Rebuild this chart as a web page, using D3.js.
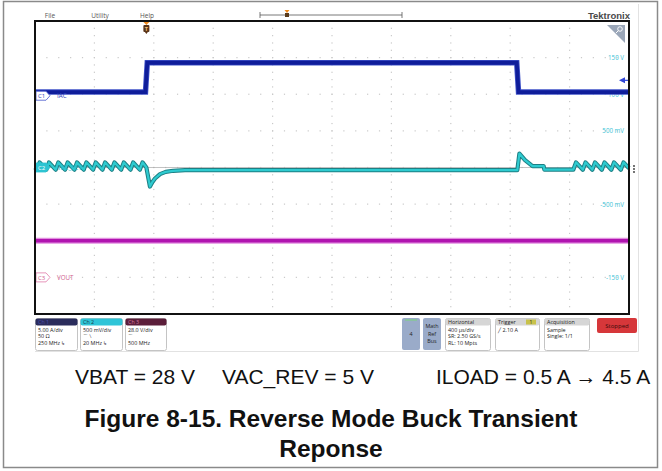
<!DOCTYPE html>
<html>
<head>
<meta charset="utf-8">
<script src="https://cdn.jsdelivr.net/npm/d3@7"></script>
<style>
  html, body { margin: 0; padding: 0; background: #fff; }
  svg { display: block; }
</style>
</head>
<body>
<svg id="chart" width="662" height="471"></svg>
<script>
// ---- Data (time in µs relative to the trigger point) ----
const timeDomain = [-750, 3250];           // 400 µs/div, 10 divisions

// Ch1 IAC (A): load step 0.5 A -> 4.5 A -> 0.5 A
const iacPoints = [
  [-750, 0.5], [-6, 0.5], [6, 4.5], [2494, 4.5], [2506, 0.5], [3250, 0.5]
];

// Ch2 VAC_REV AC-coupled ripple/transient (V)
const vacPoints = [
  [-750, 0.0], [-737, -0.03], [-719, 0.07], [-674, -0.03], [-656, 0.07],
  [-611, -0.03], [-593, 0.07], [-548, -0.03], [-530, 0.07], [-485, -0.03],
  [-467, 0.07], [-422, -0.03], [-404, 0.07], [-359, -0.03], [-341, 0.07],
  [-296, -0.03], [-278, 0.07], [-233, -0.03], [-215, 0.07], [-170, -0.03],
  [-152, 0.07], [-107, -0.03], [-89, 0.07], [-44, -0.03], [-26, 0.07],
  [0, 0.0], [24, -0.26], [40, -0.2], [58, -0.15], [92, -0.09], [130, -0.06],
  [180, -0.045], [260, -0.035], [2498, -0.035], [2512, 0.19], [2550, 0.1],
  [2590, 0.035], [2600, 0.02], [2675, 0.02], [2680, -0.03], [2875, -0.03],
  [2893, 0.07], [2939, -0.03], [2957, 0.07], [3003, -0.03], [3021, 0.07],
  [3067, -0.03], [3085, 0.07], [3131, -0.03], [3149, 0.07], [3195, -0.03],
  [3213, 0.07], [3250, -0.01]
];

// Ch3 VOUT (V)
const voutPoints = [[-750, 28], [3250, 28]];

// Channel settings
const ch1 = { name: "C1", label: "IAC", perDiv: 5.0, offsetDiv: 1.96 };
const ch2 = { name: "C2", label: "VAC_REV", perDiv: 0.5, offsetDiv: 0 };
const ch3 = { name: "C3", label: "VOUT", perDiv: 28.0, offsetDiv: -3 };
const triggerLevel = 2.10; // A on Ch1

// Right-edge graticule readouts (per division index)
const gratLabels = [
  { div: 3, text: "150 V" }, { div: 2, text: "100 V" }, { div: 1, text: "500 mV" },
  { div: -1, text: "-500 mV" }, { div: -2, text: "-100 V" }, { div: -3, text: "-150 V" }
];

const menuItems = ["File", "Utility", "Help"];
const captionParts = ["VBAT = 28 V", "VAC_REV = 5 V", "ILOAD = 0.5 A \u2192 4.5 A"];
const titleLines = ["Figure 8-15. Reverse Mode Buck Transient", "Reponse"];

// ---- Layout ----
const svg = d3.select("#chart");
const plot = { left: 35, right: 629, top: 21, bottom: 314 };
const uiFont = "'Open Sans', 'Noto Sans', sans-serif";

const x = d3.scaleLinear().domain(timeDomain).range([plot.left, plot.right]);
const yDiv = d3.scaleLinear().domain([-4, 4]).range([plot.bottom, plot.top]);
const chY = ch => v => yDiv(ch.offsetDiv + v / ch.perDiv);

// Outer figure frame
svg.append("rect").attr("x", 3.5).attr("y", 1.5).attr("width", 654).attr("height", 466)
  .attr("fill", "none").attr("stroke", "#8a8a8a").attr("stroke-width", 1.5);

// Scope screen border lines
svg.append("line").attr("x1", 638.5).attr("x2", 638.5).attr("y1", 4).attr("y2", 351.5)
  .attr("stroke", "#e2e2e2");
svg.append("line").attr("x1", 35).attr("x2", 638.5).attr("y1", 351.5).attr("y2", 351.5)
  .attr("stroke", "#e2e2e2");

// Menu bar
const menuX = [50, 100, 147];
svg.selectAll("text.menu").data(menuItems).join("text")
  .attr("x", (d, i) => menuX[i]).attr("y", 17.5).attr("text-anchor", "middle")
  .attr("font-family", uiFont).attr("font-size", 6.5).attr("fill", "#555").text(d => d);

// Record overview bar
const ov = svg.append("g");
ov.append("line").attr("x1", 260).attr("x2", 402).attr("y1", 15).attr("y2", 15).attr("stroke", "#555").attr("stroke-width", 0.8);
ov.append("line").attr("x1", 260).attr("x2", 260).attr("y1", 12).attr("y2", 18).attr("stroke", "#555").attr("stroke-width", 0.8);
ov.append("line").attr("x1", 402).attr("x2", 402).attr("y1", 12).attr("y2", 18).attr("stroke", "#555").attr("stroke-width", 0.8);
ov.append("path").attr("d", "M284.5,10 L289.5,10 L287,13 Z").attr("fill", "#f08a1c");
ov.append("rect").attr("x", 285).attr("y", 13).attr("width", 4).attr("height", 4).attr("fill", "#5a3a1a");

// Tektronix logo
svg.append("text").attr("x", 630).attr("y", 19).attr("text-anchor", "end")
  .attr("font-family", "'Liberation Sans', Arial, sans-serif").attr("font-weight", "bold")
  .attr("font-size", 9.5).attr("fill", "#4a4a4a").text("Tektronix");

// Graticule
const grid = svg.append("g");
for (let i = 1; i < 10; i++) {
  const gx = plot.left + i * (plot.right - plot.left) / 10;
  for (let j = 1; j < 40; j++) {
    const gy = yDiv(-4 + j * 0.2);
    grid.append("rect").attr("x", gx - 0.6).attr("y", gy - 0.6).attr("width", 1.2).attr("height", 1.2).attr("fill", "#c9c9c9");
  }
}
for (let j = -3; j <= 3; j++) {
  const gy = yDiv(j);
  for (let i = 1; i < 50; i++) {
    const gx = plot.left + i * (plot.right - plot.left) / 50;
    grid.append("rect").attr("x", gx - 0.6).attr("y", gy - 0.6).attr("width", 1.2).attr("height", 1.2).attr("fill", "#c9c9c9");
  }
}
grid.append("line").attr("x1", plot.left).attr("x2", plot.right).attr("y1", yDiv(0)).attr("y2", yDiv(0))
  .attr("stroke", "#a8a8a8").attr("stroke-width", 0.7);

// Right-edge readouts
svg.selectAll("text.grat").data(gratLabels).join("text")
  .attr("x", 624).attr("y", d => yDiv(d.div) + 2.5).attr("text-anchor", "end")
  .attr("font-family", uiFont).attr("font-size", 6.2).attr("fill", "#39c3d6").text(d => d.text);

// Traces
const line = (ch) => d3.line().x(d => x(d[0])).y(d => chY(ch)(d[1]));

// Ch3 VOUT
svg.append("path").datum(voutPoints).attr("d", line(ch3)).attr("fill", "none")
  .attr("stroke", "#e28ee0").attr("stroke-width", 6);
svg.append("path").datum(voutPoints).attr("d", line(ch3)).attr("fill", "none")
  .attr("stroke", "#b014b0").attr("stroke-width", 3.5);

// Ch2 VAC_REV
svg.append("path").datum(vacPoints).attr("d", line(ch2)).attr("fill", "none")
  .attr("stroke", "#1d7f84").attr("stroke-width", 4.2).attr("stroke-linejoin", "round");
svg.append("path").datum(vacPoints).attr("d", line(ch2)).attr("fill", "none")
  .attr("stroke", "#2ecbd0").attr("stroke-width", 2.2).attr("stroke-linejoin", "round");

// Ch1 IAC
svg.append("path").datum(iacPoints).attr("d", line(ch1)).attr("fill", "none")
  .attr("stroke", "#3f52c8").attr("stroke-width", 5.5);
svg.append("path").datum(iacPoints).attr("d", line(ch1)).attr("fill", "none")
  .attr("stroke", "#0f1d9a").attr("stroke-width", 3.8);

// Channel badges on the left edge
function badge(ch, stroke, fill, textFill, labelFill) {
  const gy = chY(ch)(0);
  const g = svg.append("g");
  g.append("path")
    .attr("d", `M36,${gy - 4.5} L46,${gy - 4.5} L50,${gy} L46,${gy + 4.5} L36,${gy + 4.5} Z`)
    .attr("fill", fill).attr("stroke", stroke).attr("stroke-width", 0.8);
  g.append("text").attr("x", 41.5).attr("y", gy + 2.2).attr("text-anchor", "middle")
    .attr("font-family", uiFont).attr("font-size", 6).attr("fill", textFill).text(ch.name);
  g.append("text").attr("x", 57).attr("y", gy + 2.2)
    .attr("font-family", uiFont).attr("font-size", 6.2).attr("fill", labelFill).text(ch.label);
}
badge(ch1, "#4455cc", "#fff", "#3344bb", "#3344bb");
badge(ch2, "#2ec4d2", "#2ec4d2", "#fff", "#2ab8c8");
badge(ch3, "#e07aa8", "#fff", "#d0608f", "#d0608f");

// Trigger level indicator (right edge)
const ty = chY(ch1)(triggerLevel);
svg.append("path").attr("d", `M619,${ty} L625,${ty - 3} L625,${ty + 3} Z`).attr("fill", "#3046d8");
svg.append("line").attr("x1", 624).attr("x2", 628).attr("y1", ty).attr("y2", ty).attr("stroke", "#3046d8").attr("stroke-width", 1.2);

// Trigger position marker (top)
const tx = x(0);
svg.append("path").attr("d", `M${tx - 3},22 L${tx + 3},22 L${tx},25 Z`).attr("fill", "#f08a1c");
svg.append("rect").attr("x", tx - 3).attr("y", 25).attr("width", 6).attr("height", 7).attr("rx", 1).attr("fill", "#5a3418");
svg.append("text").attr("x", tx).attr("y", 31).attr("text-anchor", "middle").attr("font-family", uiFont)
  .attr("font-size", 5.5).attr("font-weight", "bold").attr("fill", "#f3c27a").text("T");
svg.append("path").attr("d", `M${tx - 1.5},32 L${tx + 1.5},32 L${tx},34 Z`).attr("fill", "#5a3418");

// Zoom corner
svg.append("path").attr("d", "M607,25 L625,25 L625,43 Z").attr("fill", "#9aa6b8");
svg.append("circle").attr("cx", 620).attr("cy", 29).attr("r", 2.3).attr("fill", "none").attr("stroke", "#fff").attr("stroke-width", 0.9);
svg.append("line").attr("x1", 618.4).attr("y1", 30.6).attr("x2", 616).attr("y2", 33).attr("stroke", "#fff").attr("stroke-width", 1);

// Plot frame
svg.append("rect").attr("x", plot.left).attr("y", plot.top)
  .attr("width", plot.right - plot.left).attr("height", plot.bottom - plot.top)
  .attr("fill", "none").attr("stroke", "#111").attr("stroke-width", 2);

// Side menu dots
[0, 1, 2].forEach(i => svg.append("circle").attr("cx", 634).attr("cy", 166 + i * 3).attr("r", 0.9).attr("fill", "#333"));

// ---- Bottom info badges ----
const info = svg.append("g").attr("font-family", uiFont).attr("font-size", 5.4);
const lineStep = 6.6;
const chBoxes = [
  { x: 35, w: 42, head: "#2a2c5c", headText: "#4a4fb0", title: "Ch 1", lines: ["5.00 A/div", "50 \u03a9", "250 MHz \u21b3"] },
  { x: 80, w: 42, head: "#2fc5d8", headText: "#1b3b48", title: "Ch 2", lines: ["500 mV/div", "\u2312          \u2216", "20 MHz \u21b3"] },
  { x: 125, w: 41, head: "#5b1e3a", headText: "#d87aa0", title: "Ch 3", lines: ["28.0 V/div", "\u2312", "500 MHz"] }
];
chBoxes.forEach(b => {
  info.append("rect").attr("x", b.x + 0.5).attr("y", 318.5).attr("width", b.w).attr("height", 32)
    .attr("rx", 2).attr("fill", "#fff").attr("stroke", "#c4c4c4");
  info.append("rect").attr("x", b.x + 0.5).attr("y", 318.5).attr("width", b.w).attr("height", 7).attr("rx", 2).attr("fill", b.head);
  info.append("text").attr("x", b.x + 3).attr("y", 324).attr("fill", b.headText).text(b.title);
  b.lines.forEach((t, i) => info.append("text").attr("x", b.x + 3).attr("y", 331.5 + i * lineStep).attr("fill", "#222").text(t));
});

// "4" and Math/Ref/Bus buttons
info.append("rect").attr("x", 402).attr("y", 318).attr("width", 18).attr("height", 32).attr("rx", 2).attr("fill", "#9aabc9");
info.append("line").attr("x1", 405).attr("x2", 417).attr("y1", 320).attr("y2", 320).attr("stroke", "#7bd87b").attr("stroke-width", 1);
info.append("text").attr("x", 411).attr("y", 336).attr("text-anchor", "middle").attr("fill", "#222").text("4");
info.append("rect").attr("x", 423).attr("y", 318).attr("width", 18).attr("height", 32).attr("rx", 2).attr("fill", "#9aabc9");
["Math", "Ref", "Bus"].forEach((t, i) => info.append("text").attr("x", 432).attr("y", 328 + i * 7.5)
  .attr("text-anchor", "middle").attr("fill", "#222").text(t));

const sysBoxes = [
  { x: 445, w: 45, title: "Horizontal", lines: ["400 \u00b5s/div", "SR: 2.50 GS/s", "RL: 10 Mpts"] },
  { x: 495, w: 44, title: "Trigger", lines: ["\u2571          2.10 A"] },
  { x: 544, w: 45, title: "Acquisition", lines: ["Sample", "Single: 1/1"] }
];
sysBoxes.forEach(b => {
  info.append("rect").attr("x", b.x + 0.5).attr("y", 318.5).attr("width", b.w).attr("height", 32)
    .attr("rx", 2).attr("fill", "#fff").attr("stroke", "#c4c4c4");
  info.append("rect").attr("x", b.x + 0.5).attr("y", 318.5).attr("width", b.w).attr("height", 7).attr("rx", 2).attr("fill", "#d6d6d6");
  info.append("text").attr("x", b.x + 3).attr("y", 324).attr("fill", "#222").text(b.title);
  b.lines.forEach((t, i) => info.append("text").attr("x", b.x + 3).attr("y", 331.5 + i * lineStep).attr("fill", "#222").text(t));
});
info.append("rect").attr("x", 526).attr("y", 319.5).attr("width", 10).attr("height", 5).attr("fill", "#c8c24a");
info.append("text").attr("x", 531).attr("y", 324).attr("text-anchor", "middle").attr("font-size", 5).attr("fill", "#222").text("1");

info.append("rect").attr("x", 597).attr("y", 318).attr("width", 40).attr("height", 15).attr("rx", 2).attr("fill", "#d6373a");
info.append("text").attr("x", 617).attr("y", 328).attr("text-anchor", "middle").attr("font-size", 6).attr("fill", "#3a0a0a").text("Stopped");

// ---- Caption ----
const capFont = "'Liberation Sans', Arial, sans-serif";
const capX = [75, 222, 436];
svg.selectAll("text.cap").data(captionParts).join("text")
  .attr("x", (d, i) => capX[i]).attr("y", 384)
  .attr("font-family", capFont).attr("font-size", 21).attr("fill", "#111").text(d => d);
svg.selectAll("text.title").data(titleLines).join("text")
  .attr("x", 331).attr("y", (d, i) => 427 + i * 30).attr("text-anchor", "middle")
  .attr("font-family", capFont).attr("font-weight", "bold").attr("font-size", 24.5).attr("fill", "#111").text(d => d);
</script>
</body>
</html>
